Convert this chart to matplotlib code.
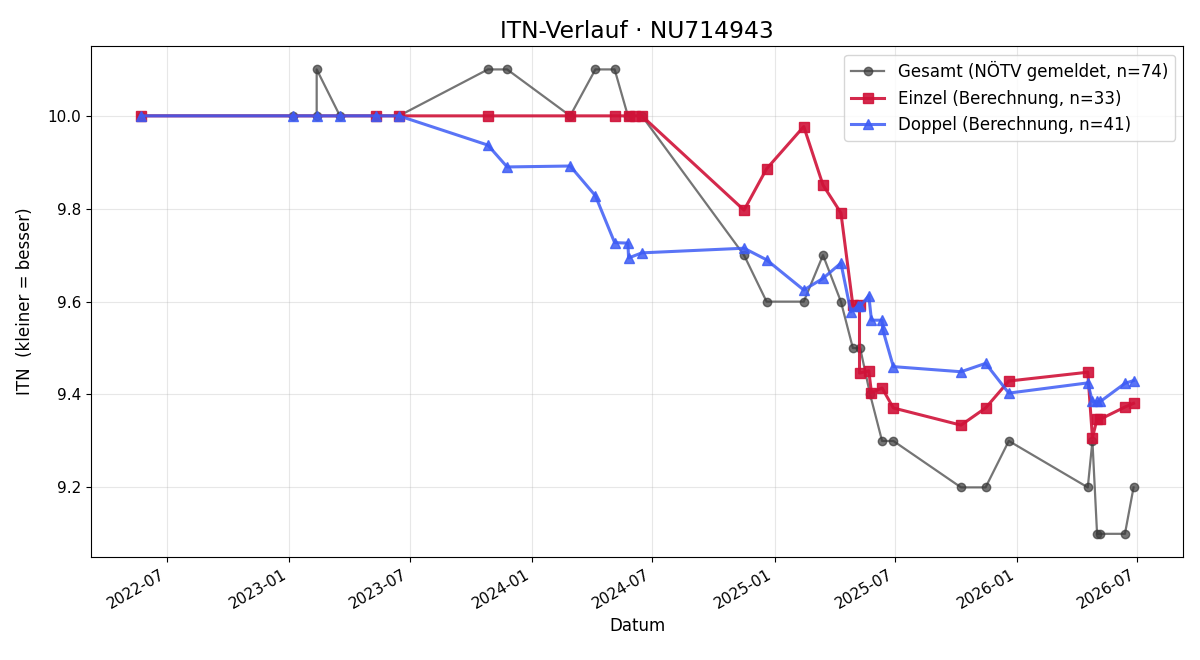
import matplotlib
matplotlib.use('Agg')
import matplotlib.pyplot as plt
import matplotlib.dates as mdates
import pandas as pd

# Gesamt (NÖTV gemeldet)
ges_dates = ['2022-05-22', '2023-01-06', '2023-02-11', '2023-02-11', '2023-03-18',
             '2023-05-12', '2023-06-15', '2023-10-27', '2023-11-25', '2024-02-28',
             '2024-04-06', '2024-05-05', '2024-05-25', '2024-06-15', '2024-11-16',
             '2024-12-20', '2025-02-14', '2025-03-15', '2025-04-11', '2025-04-29',
             '2025-05-10', '2025-05-25', '2025-06-12', '2025-06-29', '2025-10-09',
             '2025-11-15', '2025-12-20', '2026-04-18', '2026-04-25', '2026-05-02',
             '2026-05-07', '2026-06-13', '2026-06-26']
ges_vals = [10.0, 10.0, 10.0, 10.1, 10.0,
            10.0, 10.0, 10.1, 10.1, 10.0,
            10.1, 10.1, 10.0, 10.0, 9.7,
            9.6, 9.6, 9.7, 9.6, 9.5,
            9.5, 9.4, 9.3, 9.3, 9.2,
            9.2, 9.3, 9.2, 9.3, 9.1,
            9.1, 9.1, 9.2]

# Einzel (Berechnung)
ein_dates = ['2022-05-22', '2023-05-12', '2023-06-15', '2023-10-27', '2024-02-28',
             '2024-05-05', '2024-05-26', '2024-06-05', '2024-06-15', '2024-11-16',
             '2024-12-20', '2025-02-14', '2025-03-15', '2025-04-11', '2025-04-29',
             '2025-05-09', '2025-05-09', '2025-05-23', '2025-05-27', '2025-06-12',
             '2025-06-29', '2025-10-09', '2025-11-15', '2025-12-20', '2026-04-18',
             '2026-04-25', '2026-05-02', '2026-05-07', '2026-06-13', '2026-06-26']
ein_vals = [10.0, 10.0, 10.0, 10.0, 10.0,
            10.0, 10.0, 10.0, 10.0, 9.797,
            9.886, 9.977, 9.851, 9.791, 9.592,
            9.592, 9.446, 9.451, 9.404, 9.414,
            9.371, 9.334, 9.371, 9.429, 9.448,
            9.307, 9.347, 9.347, 9.373, 9.381]

# Doppel (Berechnung)
dop_dates = ['2022-05-22', '2023-01-06', '2023-02-11', '2023-03-18', '2023-05-12',
             '2023-06-15', '2023-10-27', '2023-11-25', '2024-02-28', '2024-04-06',
             '2024-05-05', '2024-05-25', '2024-05-26', '2024-06-15', '2024-11-16',
             '2024-12-20', '2025-02-14', '2025-03-15', '2025-04-11', '2025-04-26',
             '2025-05-06', '2025-05-10', '2025-05-23', '2025-05-27', '2025-06-12',
             '2025-06-13', '2025-06-29', '2025-10-09', '2025-11-15', '2025-12-20',
             '2026-04-18', '2026-04-25', '2026-05-02', '2026-05-07', '2026-06-13',
             '2026-06-26']
dop_vals = [10.0, 10.0, 10.0, 10.0, 10.0,
            10.0, 9.937, 9.890, 9.892, 9.828,
            9.727, 9.726, 9.694, 9.705, 9.715,
            9.690, 9.625, 9.650, 9.683, 9.578,
            9.590, 9.590, 9.613, 9.560, 9.560,
            9.540, 9.460, 9.449, 9.467, 9.403,
            9.425, 9.385, 9.385, 9.385, 9.424,
            9.430]

fig, ax = plt.subplots(figsize=(12, 6.6), dpi=100)

ax.plot(pd.to_datetime(ges_dates), ges_vals, '-o', color='#3a3a3a', alpha=0.7,
        lw=1.6, ms=6, label='Gesamt (NÖTV gemeldet, n=74)')
ax.plot(pd.to_datetime(ein_dates), ein_vals, '-s', color='#d01238', alpha=0.9,
        lw=2.2, ms=7, label='Einzel (Berechnung, n=33)')
ax.plot(pd.to_datetime(dop_dates), dop_vals, '-^', color='#3d5cf5', alpha=0.85,
        lw=2.2, ms=7, label='Doppel (Berechnung, n=41)')

ax.xaxis.set_major_locator(mdates.MonthLocator(bymonth=[1, 7]))
ax.xaxis.set_major_formatter(mdates.DateFormatter('%Y-%m'))
ax.grid(True, alpha=0.3)
ax.set_title('ITN-Verlauf · NU714943', fontsize=16.8)
ax.set_xlabel('Datum', fontsize=12)
ax.set_ylabel('ITN  (kleiner = besser)', fontsize=12, labelpad=10)
ax.tick_params(labelsize=11)
ax.legend(loc='upper right', fontsize=12)
fig.autofmt_xdate()
fig.subplots_adjust(left=0.076, right=0.986, top=0.930, bottom=0.156)
fig.savefig('out.png')
